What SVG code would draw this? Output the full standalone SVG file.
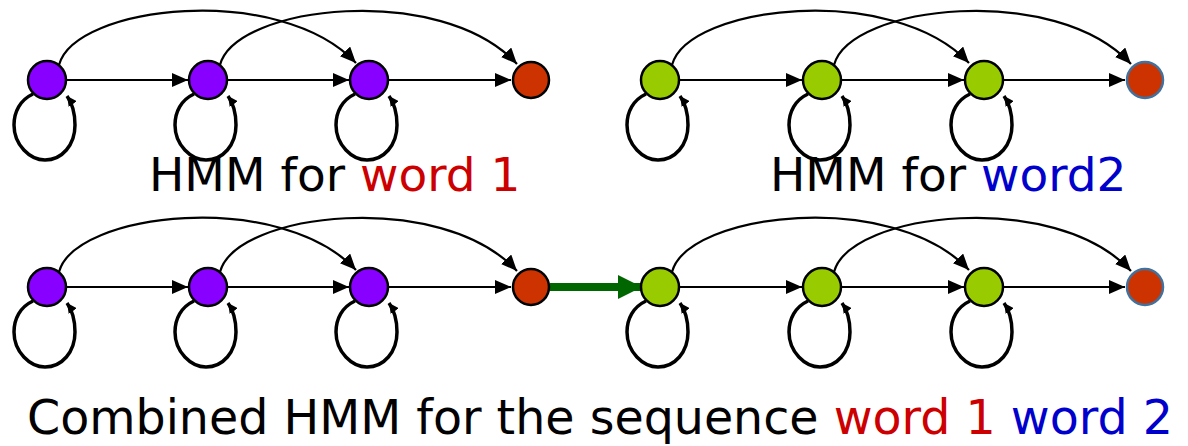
<svg xmlns="http://www.w3.org/2000/svg" width="1188" height="446" viewBox="0 0 1188 446">
<style>
.n{stroke:#000;stroke-width:2.5}
.p{fill:#8800FF}
.g{fill:#99CC00}
.r{fill:#CC3300}
.rb{fill:#CC3300;stroke:#41719C;stroke-width:2.5}
.e{fill:none;stroke:#000;stroke-width:2.2}
.l{fill:none;stroke:#000;stroke-width:3.5}
.t{font-family:"DejaVu Sans",Verdana,sans-serif;font-size:47px;fill:#000}
</style>
<defs>
<marker id="a" viewBox="0 0 16 14" refX="16" refY="7" markerWidth="16" markerHeight="14" markerUnits="userSpaceOnUse" orient="auto"><path d="M0,0 L16,7 L0,14 z" fill="#000"/></marker>
<marker id="s" viewBox="0 0 10 10" refX="10" refY="5" markerWidth="10" markerHeight="10" markerUnits="userSpaceOnUse" orient="auto"><path d="M0,0 L10,5 L0,10 z" fill="#000"/></marker>
<marker id="ga" viewBox="0 0 24 24" refX="24" refY="12" markerWidth="24" markerHeight="24" markerUnits="userSpaceOnUse" orient="auto"><path d="M0,0 L24,12 L0,24 z" fill="#006600"/></marker>
<path id="lp" class="l" d="M-14,14 C-27,20 -33,32 -33,45 C-33,65 -17,80 -2,80 C15,80 28,65 28,45 C28,32 25,23 20,16" marker-end="url(#s)"/>
</defs>
<g id="connectors">
<path class="e" d="M66,80 H188" marker-end="url(#a)"/>
<path class="e" d="M227,80 H349" marker-end="url(#a)"/>
<path class="e" d="M388,80 H511" marker-end="url(#a)"/>
<path class="e" d="M59,65 C75,5 280,-18 356,63" marker-end="url(#a)"/>
<path class="e" d="M220,65 C236,5 441,-18 517,64" marker-end="url(#a)"/>
<use href="#lp" x="47" y="80"/>
<use href="#lp" x="208" y="80"/>
<use href="#lp" x="369" y="80"/>
<path class="e" d="M679,80 H802" marker-end="url(#a)"/>
<path class="e" d="M841,80 H964" marker-end="url(#a)"/>
<path class="e" d="M1003,80 H1125" marker-end="url(#a)"/>
<path class="e" d="M672,65 C688,5 893,-18 969,63" marker-end="url(#a)"/>
<path class="e" d="M834,65 C850,5 1055,-18 1131,64" marker-end="url(#a)"/>
<use href="#lp" x="660" y="80"/>
<use href="#lp" x="822" y="80"/>
<use href="#lp" x="984" y="80"/>
<path class="e" d="M66,287 H188" marker-end="url(#a)"/>
<path class="e" d="M227,287 H349" marker-end="url(#a)"/>
<path class="e" d="M388,287 H511" marker-end="url(#a)"/>
<path class="e" d="M59,272 C75,212 280,189 356,270" marker-end="url(#a)"/>
<path class="e" d="M220,272 C236,212 441,189 517,271" marker-end="url(#a)"/>
<use href="#lp" x="47" y="287"/>
<use href="#lp" x="208" y="287"/>
<use href="#lp" x="369" y="287"/>
<path d="M550,287 H642" fill="none" stroke="#006600" stroke-width="8" marker-end="url(#ga)"/>
<path class="e" d="M679,287 H802" marker-end="url(#a)"/>
<path class="e" d="M841,287 H964" marker-end="url(#a)"/>
<path class="e" d="M1003,287 H1125" marker-end="url(#a)"/>
<path class="e" d="M672,272 C688,212 893,189 969,270" marker-end="url(#a)"/>
<path class="e" d="M834,272 C850,212 1055,189 1131,271" marker-end="url(#a)"/>
<use href="#lp" x="660" y="287"/>
<use href="#lp" x="822" y="287"/>
<use href="#lp" x="984" y="287"/>
</g>
<g id="t1a"><circle class="n p" cx="47" cy="80" r="19"/></g>
<g id="t1b"><circle class="n p" cx="208" cy="80" r="19"/></g>
<g id="t1c"><circle class="n p" cx="369" cy="80" r="19"/></g>
<g id="t1d"><circle class="n r" cx="531" cy="80" r="18"/></g>
<g id="t2a"><circle class="n g" cx="660" cy="80" r="19"/></g>
<g id="t2b"><circle class="n g" cx="822" cy="80" r="19"/></g>
<g id="t2c"><circle class="n g" cx="984" cy="80" r="19"/></g>
<g id="t2d"><circle class="rb" cx="1145" cy="80" r="18"/></g>
<g id="b1a"><circle class="n p" cx="47" cy="287" r="19"/></g>
<g id="b1b"><circle class="n p" cx="208" cy="287" r="19"/></g>
<g id="b1c"><circle class="n p" cx="369" cy="287" r="19"/></g>
<g id="b1d"><circle class="n r" cx="531" cy="287" r="18"/></g>
<g id="b2a"><circle class="n g" cx="660" cy="287" r="19"/></g>
<g id="b2b"><circle class="n g" cx="822" cy="287" r="19"/></g>
<g id="b2c"><circle class="n g" cx="984" cy="287" r="19"/></g>
<g id="b2d"><circle class="rb" cx="1145" cy="287" r="18"/></g>
<g id="labels">
<text class="t" x="149" y="191">HMM for <tspan fill="#CC0000">word 1</tspan></text>
<text class="t" x="770" y="191">HMM for <tspan fill="#0000CC">word2</tspan></text>
<text class="t" x="27" y="434" style="font-size:47.5px">Combined HMM for the sequence <tspan fill="#CC0000">word 1</tspan> <tspan fill="#0000CC">word 2</tspan></text>
</g>
</svg>
